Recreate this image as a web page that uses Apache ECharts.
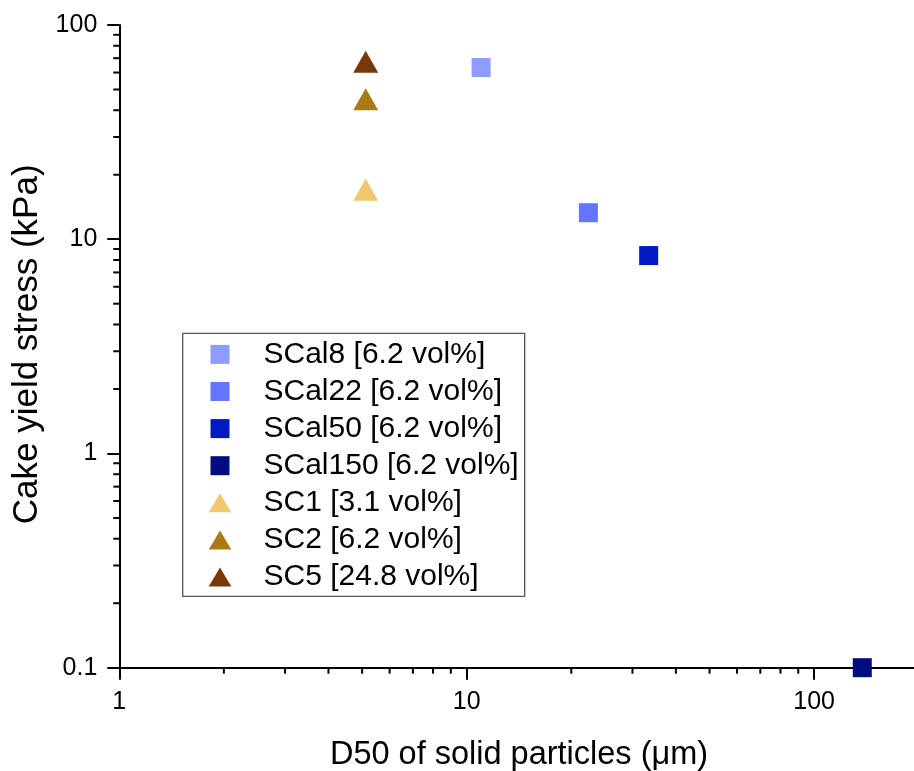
<!DOCTYPE html>
<html>
<head>
<meta charset="utf-8">
<script src="https://cdn.jsdelivr.net/npm/echarts@6/dist/echarts.min.js"></script>
<style>
  html, body { margin: 0; padding: 0; background: #fff; }
  #chart { width: 914px; height: 771px; }
</style>
</head>
<body>
<div id="chart"></div>
<script>
// D50 (µm) and cake yield stress (kPa) per sample
const seriesNames = [
  'SCal8 [6.2 vol%]', 'SCal22 [6.2 vol%]', 'SCal50 [6.2 vol%]', 'SCal150 [6.2 vol%]',
  'SC1 [3.1 vol%]', 'SC2 [6.2 vol%]', 'SC5 [24.8 vol%]'
];
const d50Values = [11.0, 22.4, 33.4, 137.6, 5.12, 5.12, 5.12];
const yieldStress = [63.3, 13.3, 8.39, 0.1, 17.0, 45.0, 67.4];
const markerShapes = ['square', 'square', 'square', 'square', 'triangle', 'triangle', 'triangle'];
const markerColors = ['#8f9cff', '#6374ff', '#0019c2', '#000c80', '#f0c870', '#a87c14', '#783808'];

// axis ranges and log minor tick positions
const xRange = [1, 200];
const yRange = [0.1, 100];
const xMinorTicks = [2, 3, 4, 5, 6, 7, 8, 9, 20, 30, 40, 50, 60, 70, 80, 90, 200];
const yMinorTicks = [0.2, 0.3, 0.4, 0.5, 0.6, 0.7, 0.8, 0.9, 2, 3, 4, 5, 6, 7, 8, 9, 20, 30, 40, 50, 60, 70, 80, 90];

const FONT = '"Liberation Sans", Arial, sans-serif';
const squarePath = 'path://M0,0H10V10H0Z';
const trianglePath = 'path://M12.5,0L25,21H0Z';

const chart = echarts.init(document.getElementById('chart'), null, { renderer: 'canvas' });

const scatterSeries = seriesNames.map((name, i) => ({
  name: name,
  type: 'scatter',
  clip: false,
  symbol: markerShapes[i] === 'square' ? 'rect' : 'triangle',
  symbolSize: markerShapes[i] === 'square' ? [19, 19] : [25, 22],
  itemStyle: { color: markerColors[i], opacity: 1 },
  emphasis: { disabled: true },
  z: 5,
  data: [[d50Values[i], yieldStress[i]]]
}));

// short outward minor ticks drawn through the axis scales
const minorTickSeries = {
  type: 'custom',
  silent: true,
  clip: false,
  z: 3,
  data: xMinorTicks.map(v => [v, 'x']).concat(yMinorTicks.map(v => [v, 'y'])),
  renderItem: function (params, api) {
    const v = api.value(0);
    const kind = params.dataIndex < xMinorTicks.length ? 'x' : 'y';
    if (kind === 'x') {
      const p = api.coord([v, yRange[0]]);
      return { type: 'line', shape: { x1: p[0], y1: p[1], x2: p[0], y2: p[1] + 6 },
        style: { stroke: '#000', lineWidth: 2 } };
    }
    const p = api.coord([xRange[0], v]);
    return { type: 'line', shape: { x1: p[0], y1: p[1], x2: p[0] - 6, y2: p[1] },
      style: { stroke: '#000', lineWidth: 2 } };
  }
};

chart.setOption({
  animation: false,
  backgroundColor: '#fff',
  textStyle: { fontFamily: FONT },
  grid: {
    left: 119.3, top: 25, right: -4.7, bottom: 103.3,
    containLabel: false,
    outerBoundsMode: 'none'
  },
  xAxis: {
    type: 'log',
    logBase: 10,
    min: xRange[0],
    max: xRange[1],
    name: 'D50 of solid particles (\u03bcm)',
    nameLocation: 'middle',
    nameGap: 71,
    nameTextStyle: { fontSize: 32.5, color: '#000', fontFamily: FONT },
    axisLine: { show: true, onZero: false, lineStyle: { color: '#000', width: 2 } },
    axisTick: { show: true, inside: false, length: 12, lineStyle: { color: '#000', width: 2 } },
    axisLabel: { fontSize: 25, color: '#000', margin: 22, showMaxLabel: false, fontFamily: FONT },
    splitLine: { show: false }
  },
  yAxis: {
    type: 'log',
    logBase: 10,
    min: yRange[0],
    max: yRange[1],
    name: 'Cake yield stress (kPa)',
    nameLocation: 'middle',
    nameGap: 62,
    nameTextStyle: { fontSize: 35, color: '#000', fontFamily: FONT, padding: [0, 0, 0, 4] },
    axisLine: { show: true, onZero: false, lineStyle: { color: '#000', width: 2 } },
    axisTick: { show: true, inside: false, length: 12, lineStyle: { color: '#000', width: 2 } },
    axisLabel: { fontSize: 25, color: '#000', margin: 22, fontFamily: FONT },
    splitLine: { show: false }
  },
  legend: {
    orient: 'vertical',
    left: 182.7,
    top: 333.3,
    padding: [6.1, 6, 4.3, 26],
    itemWidth: 77,
    itemHeight: 19,
    itemGap: 7.1,
    symbolKeepAspect: true,
    backgroundColor: '#fff',
    borderColor: '#555',
    borderWidth: 1.3,
    borderRadius: 0,
    selectedMode: false,
    textStyle: { fontSize: 30, color: '#000', padding: 0, fontFamily: FONT },
    data: seriesNames.map((name, i) => ({
      name: name,
      icon: markerShapes[i] === 'square' ? squarePath : trianglePath,
      itemStyle: { color: markerColors[i] }
    }))
  },
  series: scatterSeries.concat([minorTickSeries])
});
</script>
</body>
</html>
